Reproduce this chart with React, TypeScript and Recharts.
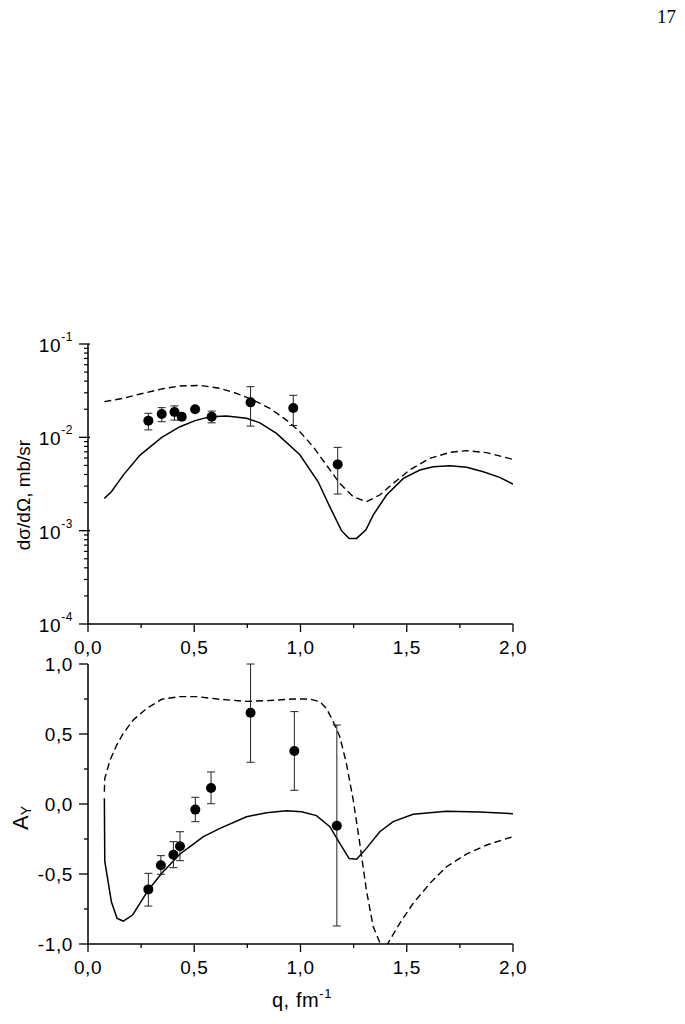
import React from 'react';
import { ComposedChart, Line, Scatter, ErrorBar, XAxis, YAxis } from 'recharts';

// upper panel: differential cross section (log scale)
const qSolidTop = [0.077, 0.11, 0.166, 0.245, 0.347, 0.433, 0.504, 0.574, 0.652, 0.746, 0.809, 0.887, 0.997, 1.083, 1.138, 1.193, 1.229, 1.264, 1.308, 1.342, 1.405, 1.484, 1.562, 1.625, 1.703, 1.782, 1.86, 1.94, 2.0];
const sigmaSolid = [0.00222, 0.00261, 0.00394, 0.00646, 0.01, 0.013, 0.0151, 0.0166, 0.0169, 0.016, 0.0143, 0.011, 0.0065, 0.00334, 0.0018, 0.001, 0.000826, 0.000826, 0.00102, 0.00147, 0.00241, 0.00363, 0.00447, 0.00484, 0.00497, 0.00477, 0.00428, 0.0037, 0.00315];

const qDashTop = [0.077, 0.166, 0.245, 0.347, 0.433, 0.527, 0.621, 0.699, 0.778, 0.856, 0.934, 0.997, 1.06, 1.122, 1.185, 1.248, 1.31, 1.373, 1.436, 1.514, 1.609, 1.703, 1.782, 1.876, 2.0];
const sigmaDash = [0.0241, 0.0262, 0.0291, 0.033, 0.0355, 0.036, 0.0335, 0.0296, 0.0251, 0.0204, 0.0153, 0.0115, 0.0079, 0.00505, 0.00321, 0.00231, 0.00204, 0.00241, 0.00321, 0.00447, 0.00596, 0.0069, 0.0072, 0.00685, 0.0058];

const qExpTop = [0.284, 0.347, 0.407, 0.441, 0.504, 0.582, 0.765, 0.966, 1.175];
const sigmaExp = [0.0151, 0.0178, 0.0187, 0.0166, 0.02, 0.0166, 0.0237, 0.0206, 0.00513];
const sigmaLow = [0.012, 0.0147, 0.0153, 0.0154, 0.0188, 0.0143, 0.0132, 0.0134, 0.00247];
const sigmaHigh = [0.0181, 0.0208, 0.0217, 0.0178, 0.0213, 0.0191, 0.0349, 0.0282, 0.0078];

// lower panel: analyzing power A_Y
const qSolidBot = [0.077, 0.079, 0.11, 0.137, 0.166, 0.21, 0.284, 0.347, 0.433, 0.48, 0.543, 0.621, 0.746, 0.84, 0.934, 1.005, 1.075, 1.138, 1.185, 1.229, 1.264, 1.31, 1.373, 1.436, 1.53, 1.687, 1.844, 2.0];
const aySolid = [0.041, -0.41, -0.698, -0.817, -0.836, -0.793, -0.614, -0.495, -0.357, -0.305, -0.233, -0.174, -0.091, -0.062, -0.048, -0.055, -0.083, -0.162, -0.281, -0.39, -0.395, -0.317, -0.198, -0.126, -0.074, -0.052, -0.057, -0.069];

const qDashBot = [0.077, 0.079, 0.104, 0.135, 0.166, 0.213, 0.276, 0.347, 0.433, 0.511, 0.621, 0.746, 0.84, 0.966, 1.044, 1.091, 1.122, 1.154, 1.185, 1.216, 1.248, 1.279, 1.31, 1.342, 1.39, 1.467, 1.53, 1.609, 1.687, 1.782, 1.876, 2.0];
const ayDash = [0.088, 0.183, 0.314, 0.421, 0.505, 0.6, 0.683, 0.748, 0.767, 0.767, 0.748, 0.733, 0.738, 0.75, 0.75, 0.731, 0.683, 0.588, 0.481, 0.29, 0.029, -0.281, -0.614, -0.876, -1.05, -0.852, -0.71, -0.567, -0.448, -0.357, -0.293, -0.233];

const qExpBot = [0.284, 0.343, 0.402, 0.433, 0.505, 0.579, 0.765, 0.971, 1.171];
const ayExp = [-0.61, -0.438, -0.362, -0.302, -0.04, 0.114, 0.652, 0.379, -0.155];
const ayLow = [-0.729, -0.502, -0.455, -0.405, -0.126, 0.002, 0.298, 0.098, -0.871];
const ayHigh = [-0.495, -0.369, -0.269, -0.198, 0.048, 0.229, 1.0, 0.66, 0.564];

const qTicks = [0, 0.25, 0.5, 0.75, 1, 1.25, 1.5, 1.75, 2];
const sigmaTicks = [
  0.0001, 0.0002, 0.0003, 0.0004, 0.0005, 0.0006, 0.0007, 0.0008, 0.0009,
  0.001, 0.002, 0.003, 0.004, 0.005, 0.006, 0.007, 0.008, 0.009,
  0.01, 0.02, 0.03, 0.04, 0.05, 0.06, 0.07, 0.08, 0.09,
  0.1,
];
const ayTicks = [-1, -0.75, -0.5, -0.25, 0, 0.25, 0.5, 0.75, 1];

const FONT = '"Liberation Sans", Arial, Helvetica, sans-serif';
const FS = 19;
const LS = 0.6;

const toLine = (qs: number[], vs: number[]) => qs.map((q, i) => ({ q, v: vs[i] }));
const toPoints = (qs: number[], vs: number[], lo: number[], hi: number[]) =>
  qs.map((q, i) => ({ q, v: vs[i], err: [vs[i] - lo[i], hi[i] - vs[i]] }));

const topSolid = toLine(qSolidTop, sigmaSolid);
const topDash = toLine(qDashTop, sigmaDash);
const topExp = toPoints(qExpTop, sigmaExp, sigmaLow, sigmaHigh);
const botSolid = toLine(qSolidBot, aySolid);
const botDash = toLine(qDashBot, ayDash);
const botExp = toPoints(qExpBot, ayExp, ayLow, ayHigh);

const fmt = (v: number) => v.toFixed(1).replace('.', ',');
const isHalf = (v: number) => Math.abs(v * 2 - Math.round(v * 2)) < 1e-6;

const XTick = (props: any) => {
  const { x, y, payload } = props;
  const v = payload.value;
  const major = isHalf(v);
  return (
    <g>
      <line x1={x} x2={x} y1={y} y2={y + (major ? 8 : 4)} stroke="#000" strokeWidth={1.3} />
      {major && (
        <text x={x} y={y + 30} textAnchor="middle" fontFamily={FONT} fontSize={FS} letterSpacing={LS} fill="#000">
          {fmt(v)}
        </text>
      )}
    </g>
  );
};

const LogTick = (props: any) => {
  const { x, y, payload } = props;
  const e = Math.log10(payload.value);
  const major = Math.abs(e - Math.round(e)) < 1e-6;
  if (!major) {
    return <line x1={x - 4} x2={x} y1={y} y2={y} stroke="#000" strokeWidth={1.2} />;
  }
  return (
    <g>
      <line x1={x - 9} x2={x + 2} y1={y} y2={y} stroke="#000" strokeWidth={1.3} />
      <text x={x - 15} y={y + 8} textAnchor="end" fontFamily={FONT} fontSize={FS} letterSpacing={LS} fill="#000">
        10
        <tspan dy={-11} fontSize={12}>
          {Math.round(e)}
        </tspan>
      </text>
    </g>
  );
};

const AyTick = (props: any) => {
  const { x, y, payload } = props;
  const v = payload.value;
  const major = isHalf(v);
  return (
    <g>
      <line x1={x - (major ? 9 : 4)} x2={x} y1={y} y2={y} stroke="#000" strokeWidth={1.3} />
      {major && (
        <text x={x - 15} y={y + 7} textAnchor="end" fontFamily={FONT} fontSize={FS} letterSpacing={LS} fill="#000">
          {fmt(v)}
        </text>
      )}
    </g>
  );
};

const Dot = (props: any) => <circle cx={props.cx} cy={props.cy} r={5} fill="#000" />;

const sigmaTitle = () => (
  <text x={23} y={495} transform="rotate(-90 23 495)" textAnchor="middle" dominantBaseline="central" fontFamily={FONT} fontSize={FS} fill="#000">
    dσ/dΩ, mb/sr
  </text>
);

const ayTitle = () => (
  <text x={20} y={178} transform="rotate(-90 20 178)" textAnchor="middle" dominantBaseline="central" fontFamily={FONT} fontSize={22} fill="#000">
    A<tspan dy={6} fontSize={14}>Y</tspan>
  </text>
);

const qTitle = () => (
  <text x={302} y={367} textAnchor="middle" fontFamily={FONT} fontSize={20} letterSpacing={LS} fill="#000">
    q, fm<tspan dy={-9} fontSize={13}>-1</tspan>
  </text>
);

const axisLine = { stroke: '#000', strokeWidth: 1.5 };

export default function App() {
  return (
    <div style={{ position: 'absolute', left: 0, top: 0, width: 685, height: 1024, background: '#fff' }}>
      <div style={{ position: 'absolute', left: 657, top: 6, fontFamily: '"Liberation Serif", "Times New Roman", serif', fontSize: 19 }}>
        17
      </div>

      <div style={{ position: 'absolute', left: 0, top: 0 }}>
        <ComposedChart width={685} height={660} margin={{ top: 344, right: 172, bottom: 0, left: 0 }}>
          <XAxis
            dataKey="q"
            type="number"
            domain={[0, 2]}
            ticks={qTicks}
            interval={0}
            height={36}
            tickSize={0}
            tickMargin={0}
            tickLine={false}
            axisLine={axisLine}
            tick={XTick}
            allowDataOverflow
          />
          <YAxis
            type="number"
            scale="log"
            domain={[0.0001, 0.1]}
            ticks={sigmaTicks}
            interval={0}
            width={88}
            tickSize={0}
            tickMargin={0}
            tickLine={false}
            axisLine={axisLine}
            tick={LogTick}
            allowDataOverflow
            label={sigmaTitle}
          />
          <Line data={topDash} dataKey="v" type="linear" stroke="#000" strokeWidth={1.4} strokeDasharray="7 4" dot={false} isAnimationActive={false} />
          <Line data={topSolid} dataKey="v" type="linear" stroke="#000" strokeWidth={1.5} dot={false} isAnimationActive={false} />
          <Scatter data={topExp} dataKey="v" shape={Dot} isAnimationActive={false}>
            <ErrorBar dataKey="err" direction="y" width={4} stroke="#222" strokeWidth={1} isAnimationActive={false} />
          </Scatter>
        </ComposedChart>
      </div>

      <div style={{ position: 'absolute', left: 0, top: 640 }}>
        <ComposedChart width={685} height={384} margin={{ top: 24, right: 172, bottom: 0, left: 0 }}>
          <XAxis
            dataKey="q"
            type="number"
            domain={[0, 2]}
            ticks={qTicks}
            interval={0}
            height={80}
            tickSize={0}
            tickMargin={0}
            tickLine={false}
            axisLine={axisLine}
            tick={XTick}
            allowDataOverflow
            label={qTitle}
          />
          <YAxis
            type="number"
            domain={[-1, 1]}
            ticks={ayTicks}
            interval={0}
            width={88}
            tickSize={0}
            tickMargin={0}
            tickLine={false}
            axisLine={axisLine}
            tick={AyTick}
            allowDataOverflow
            label={ayTitle}
          />
          <Line data={botDash} dataKey="v" type="linear" stroke="#000" strokeWidth={1.4} strokeDasharray="7 4" dot={false} isAnimationActive={false} />
          <Line data={botSolid} dataKey="v" type="linear" stroke="#000" strokeWidth={1.5} dot={false} isAnimationActive={false} />
          <Scatter data={botExp} dataKey="v" shape={Dot} isAnimationActive={false}>
            <ErrorBar dataKey="err" direction="y" width={4} stroke="#222" strokeWidth={1} isAnimationActive={false} />
          </Scatter>
        </ComposedChart>
      </div>
    </div>
  );
}
